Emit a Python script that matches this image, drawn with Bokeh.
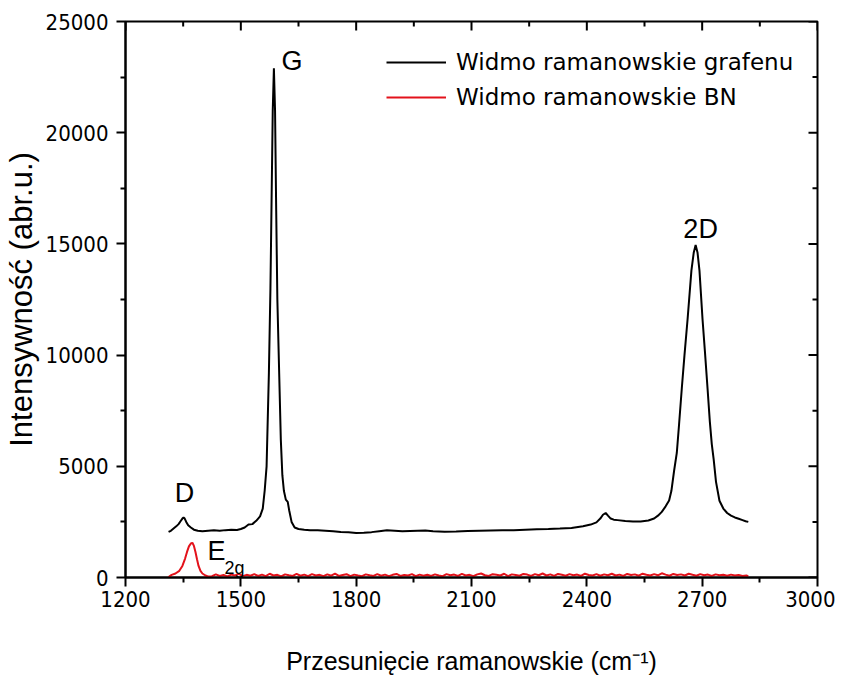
import math
from bokeh.plotting import figure
from bokeh.models import (FixedTicker, Legend, LegendItem, ColumnDataSource, Range1d)
from bokeh.core.properties import value
from bokeh.embed import file_html
from bokeh.resources import INLINE

# ---------------- data ----------------
graphene_x = [1312, 1318, 1325, 1332, 1338, 1344, 1348, 1351, 1354, 1358, 1363, 1370, 1378, 1388,
              1400, 1415, 1430, 1445, 1460, 1475, 1490, 1500, 1510, 1520, 1530, 1540, 1550, 1557,
              1562, 1567, 1573, 1577, 1580, 1583, 1586, 1589, 1592, 1595, 1600, 1604, 1608, 1612,
              1617, 1622, 1626, 1632, 1640, 1650, 1665, 1680, 1700, 1720, 1740, 1760, 1780, 1800,
              1820, 1840, 1860, 1880, 1900, 1920, 1940, 1960, 1980, 2000, 2030, 2060, 2090, 2120,
              2150, 2180, 2210, 2240, 2270, 2300, 2330, 2360, 2390, 2410, 2425, 2435, 2442, 2449,
              2455, 2462, 2470, 2480, 2500, 2520, 2540, 2560, 2575, 2585, 2595, 2605, 2614, 2620,
              2627, 2634, 2640, 2647, 2654, 2662, 2672, 2678, 2683, 2688, 2693, 2701, 2707, 2714,
              2720, 2725, 2730, 2736, 2745, 2755, 2765, 2775, 2785, 2795, 2805, 2813, 2820]
graphene_y = [2050, 2100, 2200, 2300, 2400, 2550, 2650, 2700, 2650, 2500, 2350, 2250, 2150, 2100,
              2080, 2100, 2120, 2100, 2130, 2150, 2140, 2180, 2250, 2380, 2400, 2550, 2750, 3100,
              3900, 5000, 9200, 13000, 17000, 21000, 22900, 21000, 16500, 12500, 9000, 6200, 4600, 3900,
              3500, 3400, 3000, 2500, 2250, 2180, 2150, 2130, 2120, 2100, 2080, 2050, 2030, 2000,
              2010, 2040, 2080, 2120, 2100, 2080, 2090, 2100, 2110, 2080, 2060, 2070, 2090, 2100,
              2110, 2120, 2130, 2150, 2170, 2180, 2200, 2230, 2300, 2380, 2480, 2650, 2820, 2900,
              2780, 2650, 2600, 2580, 2540, 2520, 2520, 2560, 2650, 2780, 2950, 3200, 3460, 3900,
              4800, 5600, 6900, 8500, 10000, 11600, 13800, 14600, 14950, 14600, 13800, 11600, 10200, 8500,
              7000, 6000, 5300, 4300, 3450, 3100, 2900, 2780, 2700, 2640, 2580, 2530, 2500]

bn_x = [1312, 1320, 1330, 1340, 1348, 1355, 1360, 1365, 1370, 1374, 1378, 1382, 1386, 1390, 1395,
        1400, 1408, 1416, 1425, 1435, 1445, 1455, 1465, 1475, 1485, 1495, 1505, 1515, 1525, 1535,
        1545, 1555, 1565, 1575, 1585, 1595, 1605, 1615, 1625, 1635, 1645, 1655, 1665, 1675, 1685,
        1695, 1705, 1715, 1725, 1735, 1745, 1755, 1765, 1775, 1785, 1795, 1805, 1815, 1825, 1835,
        1845, 1855, 1865, 1875, 1885, 1895, 1905, 1915, 1925, 1935, 1945, 1955, 1965, 1975, 1985,
        1995, 2005, 2015, 2025, 2035, 2045, 2055, 2065, 2075, 2085, 2095, 2105, 2115, 2125, 2135,
        2145, 2155, 2165, 2175, 2185, 2195, 2205, 2215, 2225, 2235, 2245, 2255, 2265, 2275, 2285,
        2295, 2305, 2315, 2325, 2335, 2345, 2355, 2365, 2375, 2385, 2395, 2405, 2415, 2425, 2435,
        2445, 2455, 2465, 2475, 2485, 2495, 2505, 2515, 2525, 2535, 2545, 2555, 2565, 2575, 2585,
        2595, 2605, 2615, 2625, 2635, 2645, 2655, 2665, 2675, 2685, 2695, 2705, 2715, 2725, 2735,
        2745, 2755, 2765, 2775, 2785, 2795, 2805, 2815, 2820]
bn_y = [20, 120, 180, 300, 520, 850, 1150, 1400, 1530, 1560, 1420, 1150, 820, 520, 300,
        180, 90, 40, 60, 140, 70, 110, 50, 130, 90, 160, 60, 120, 80, 150,
        70, 130, 60, 170, 90, 120, 50, 140, 100, 70, 160, 80, 130, 60, 150,
        90, 120, 60, 140, 80, 170, 70, 110, 150, 60, 130, 90, 60, 140, 100,
        70, 150, 80, 130, 60, 120, 160, 70, 110, 90, 150, 60, 130, 80, 120,
        70, 140, 90, 60, 150, 100, 130, 70, 160, 90, 120, 60, 140, 180, 100,
        70, 150, 120, 90, 170, 60, 140, 110, 80, 160, 130, 70, 150, 100, 180,
        90, 140, 70, 160, 120, 80, 150, 100, 130, 70, 170, 110, 90, 150, 80,
        140, 100, 170, 90, 130, 70, 160, 110, 140, 80, 170, 120, 90, 150, 100,
        190, 130, 80, 160, 110, 140, 90, 170, 120, 80, 150, 100, 130, 70, 140,
        100, 120, 80, 130, 90, 110, 70, 90, 60]

x_ticks = [1200, 1500, 1800, 2100, 2400, 2700, 3000]
y_ticks = [0, 5000, 10000, 15000, 20000, 25000]
x_minor = [1350, 1650, 1950, 2250, 2550, 2850]
y_minor = [2500, 7500, 12500, 17500, 22500]

legend_labels = ["Widmo ramanowskie grafenu", "Widmo ramanowskie BN"]
peak_names = ["G", "D", "2D", "E"]

# ---------------- figure ----------------
TICK_FONT = "DejaVu Sans Condensed"
LABEL_FONT = "Liberation Sans"
X0, X1, Y0, Y1 = 1200, 3000, 0, 25000

p = figure(width=835, height=679, x_range=Range1d(X0, X1), y_range=Range1d(Y0, Y1),
           output_backend="svg", toolbar_location=None,
           min_border_left=124, min_border_right=18, min_border_top=21, min_border_bottom=102)
p.grid.visible = False
p.outline_line_color = "black"
p.outline_line_width = 2
p.background_fill_color = "white"
p.border_fill_color = "white"

g_line = p.line(graphene_x, graphene_y, line_color="black", line_width=2)
b_line = p.line(bn_x, bn_y, line_color="#e3121b", line_width=2)

# bottom axis
xa = p.xaxis[0]
xa.ticker = FixedTicker(ticks=x_ticks, minor_ticks=x_minor)
xa.axis_label = "Przesunięcie ramanowskie (cm⁻¹)"
xa.axis_label_text_font = LABEL_FONT
xa.axis_label_text_font_style = "normal"
xa.axis_label_text_font_size = "25px"
xa.axis_label_text_color = "black"
xa.axis_label_standoff = 37
xa.major_label_text_font = TICK_FONT
xa.major_label_text_font_size = "22px"
xa.major_label_text_color = "black"
xa.major_label_standoff = 4
xa.major_tick_out = 9
xa.major_tick_in = 0
xa.minor_tick_out = 5
xa.minor_tick_in = 0
xa.axis_line_width = 2
xa.major_tick_line_width = 2
xa.minor_tick_line_width = 2

# left axis
ya = p.yaxis[0]
ya.ticker = FixedTicker(ticks=y_ticks, minor_ticks=y_minor)
ya.axis_label = "Intensywność (abr.u.)"
ya.axis_label_text_font = LABEL_FONT
ya.axis_label_text_font_style = "normal"
ya.axis_label_text_font_size = "31px"
ya.axis_label_text_color = "black"
ya.axis_label_standoff = 4
ya.major_label_text_font = TICK_FONT
ya.major_label_text_font_size = "22px"
ya.major_label_text_color = "black"
ya.major_label_standoff = 8
ya.major_tick_out = 9
ya.major_tick_in = 0
ya.minor_tick_out = 5
ya.minor_tick_in = 0
ya.axis_line_width = 2
ya.major_tick_line_width = 2
ya.minor_tick_line_width = 2

# inward ticks on the top and right frame edges
p.ray(x=x_ticks, y=[Y1] * len(x_ticks), length=9, length_units="screen",
      angle=-math.pi / 2, line_color="black", line_width=2)
p.ray(x=x_minor, y=[Y1] * len(x_minor), length=5, length_units="screen",
      angle=-math.pi / 2, line_color="black", line_width=2)
p.ray(x=[X1] * len(y_ticks), y=y_ticks, length=9, length_units="screen",
      angle=math.pi, line_color="black", line_width=2)
p.ray(x=[X1] * len(y_minor), y=y_minor, length=5, length_units="screen",
      angle=math.pi, line_color="black", line_width=2)

# legend
legend = Legend(items=[LegendItem(label=legend_labels[0], renderers=[g_line]),
                       LegendItem(label=legend_labels[1], renderers=[b_line])],
                location=(261, 465), border_line_color=None, background_fill_alpha=0,
                label_text_font="DejaVu Sans", label_text_font_size="23px",
                label_text_color="black",
                glyph_width=60, glyph_height=30, label_height=30, label_standoff=10,
                spacing=5, padding=0, margin=0)
p.add_layout(legend, "center")

# peak labels, anchored to the peak maxima in the data
def peak(xs, ys, lo, hi):
    best = max((y, x) for x, y in zip(xs, ys) if lo <= x <= hi)
    return best[1], best[0]

gpx, gpy = peak(graphene_x, graphene_y, 1500, 1700)
dpx, dpy = peak(graphene_x, graphene_y, 1300, 1450)
d2px, d2py = peak(graphene_x, graphene_y, 2600, 2800)
epx, epy = peak(bn_x, bn_y, 1300, 1450)

lab_src = ColumnDataSource(dict(x=[gpx, dpx, d2px, epx], y=[gpy, dpy, d2py, epy],
                                t=peak_names, dx=[18, 1, 5, 24], dy=[-7, -24, -16, 8]))
p.text(x="x", y="y", text="t", x_offset="dx", y_offset="dy", source=lab_src,
       text_font=value(LABEL_FONT), text_font_size="27px", text_align="center",
       text_baseline="middle", text_color="black")
sub_src = ColumnDataSource(dict(x=[epx], y=[epy], t=["2g"]))
p.text(x="x", y="y", text="t", x_offset=42, y_offset=25, source=sub_src,
       text_font=value(LABEL_FONT), text_font_size="18px", text_align="center",
       text_baseline="middle", text_color="black")

open("out.html", "w").write(file_html(p, INLINE))
